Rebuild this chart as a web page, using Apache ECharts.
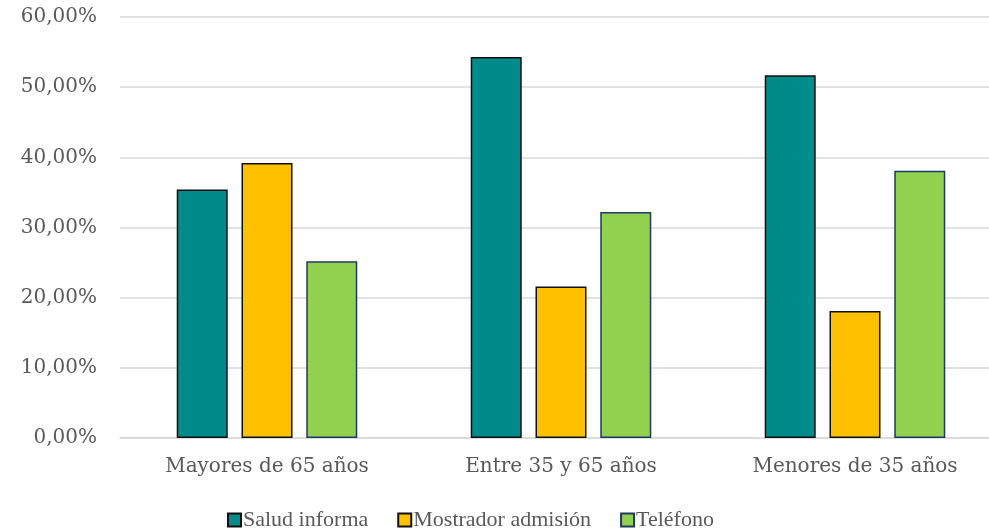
<!DOCTYPE html>
<html>
<head>
<meta charset="utf-8">
<script src="https://cdn.jsdelivr.net/npm/echarts@6/dist/echarts.min.js"></script>
<style>
  html, body { margin: 0; padding: 0; background: #ffffff; overflow: hidden; }
  #chart { width: 1002px; height: 532px; }
</style>
</head>
<body>
<div id="chart"></div>
<script>
// Age groups on the category axis
const categories = ['Mayores de 65 años', 'Entre 35 y 65 años', 'Menores de 35 años'];

// Share of each information channel, in percent
const saludInforma = [35.4, 54.3, 51.7];
const mostradorAdmision = [39.2, 21.6, 18.1];
const telefono = [25.2, 32.2, 38.1];

const seriesNames = ['Salud informa', 'Mostrador admisión', 'Teléfono'];

const AXIS_FONT = '"DejaVu Serif", "Liberation Serif", serif';
const LEGEND_FONT = '"Liberation Serif", "DejaVu Serif", serif';
const TEXT = '#595959';

const chart = echarts.init(document.getElementById('chart'), null, { renderer: 'canvas' });

function pct(v) {
  return v.toFixed(2).replace('.', ',') + '%';
}

const barBase = {
  type: 'bar',
  barWidth: 51,
  barGap: '27%',
  animation: false
};

chart.setOption({
  backgroundColor: '#ffffff',
  animation: false,
  grid: { left: 120, right: 0, top: 17, bottom: 94 },
  legend: {
    top: 504,
    left: 222,
    icon: 'rect',
    itemWidth: 13,
    itemHeight: 13,
    itemGap: 29,
    textStyle: { fontFamily: LEGEND_FONT, fontSize: 22, color: TEXT, padding: [0, 0, 0, -3] },
    data: seriesNames
  },
  xAxis: {
    type: 'category',
    data: categories,
    axisLine: { show: true, lineStyle: { color: '#d9d9d9', width: 1.5 } },
    axisTick: { show: false },
    axisLabel: { fontFamily: AXIS_FONT, fontSize: 20, color: TEXT, margin: 19 }
  },
  yAxis: {
    type: 'value',
    min: 0,
    max: 60,
    interval: 10,
    axisLine: { show: false },
    axisTick: { show: false },
    splitLine: { lineStyle: { color: '#d9d9d9', width: 1.5 } },
    axisLabel: {
      fontFamily: AXIS_FONT, fontSize: 20, color: TEXT, margin: 23,
      formatter: pct
    }
  },
  series: [
    Object.assign({}, barBase, {
      name: seriesNames[0],
      data: saludInforma,
      itemStyle: { color: '#008B8B', borderColor: '#111111', borderWidth: 1.5 }
    }),
    Object.assign({}, barBase, {
      name: seriesNames[1],
      data: mostradorAdmision,
      itemStyle: { color: '#FFC000', borderColor: '#111111', borderWidth: 1.5 }
    }),
    Object.assign({}, barBase, {
      name: seriesNames[2],
      data: telefono,
      itemStyle: { color: '#92D050', borderColor: '#1F3864', borderWidth: 1.5 }
    })
  ]
});
</script>
</body>
</html>
